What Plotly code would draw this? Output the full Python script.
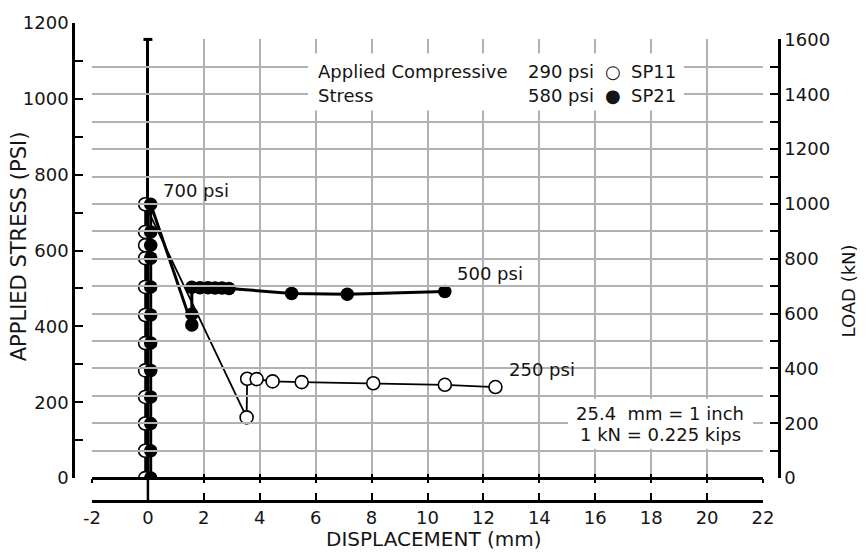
import plotly.graph_objects as go

# ---------------- data ----------------
sp11_disp = [-0.1, -0.1, -0.1, -0.1, -0.1, -0.1, -0.1, -0.1, -0.1, -0.1, -0.1, -0.1,
             3.53, 3.55, 3.89, 4.46, 5.50, 8.06, 10.62, 12.43]
sp11_stress = [0, 72, 144, 214, 284, 356, 430, 504, 580, 614, 649, 722,
               160, 262, 261, 255, 253, 250, 246, 240]

sp21_disp = [0.1, 0.1, 0.1, 0.1, 0.1, 0.1, 0.1, 0.1, 0.1, 0.1, 0.1, 0.1,
             1.57, 1.57, 1.57, 1.86, 2.15, 2.40, 2.65, 2.90, 5.14, 7.13, 10.62]
sp21_stress = [0, 72, 144, 214, 284, 356, 430, 504, 580, 614, 649, 722,
               404, 432, 503, 502, 502, 501, 501, 500, 487, 485, 492]

disp_range = [-2, 22]
disp_ticks = [-2, 0, 2, 4, 6, 8, 10, 12, 14, 16, 18, 20, 22]
disp_ticklabels = ["-2", "0", "2", "4", "6", "8", "10", "12", "14", "16", "18", "20", "22"]
stress_range = [0, 1200]
load_range = [0, 1600]

x_title = "DISPLACEMENT (mm)"
y_title = "APPLIED STRESS (PSI)"
y2_title = "LOAD (kN)"

# ---------------- layout geometry (pixels) ----------------
W, H = 866, 554
ML, MR, MT, MB = 92, 103, 15, 53
PW = W - ML - MR
PH = H - MT - MB
ZERO_PX = 477.7      # pixel row of 0 psi / 0 kN
LOAD_TOP_PX = 31.7   # pixel row of 1600 kN
STRESS_TOP_PX = 15   # pixel row of 1200 psi


def fx(px):
    return (px - ML) / PW


def fy(py):
    return (H - MB - py) / PH


stress_per_px = stress_range[1] / (ZERO_PX - STRESS_TOP_PX)
overlay_stress_top = (ZERO_PX - LOAD_TOP_PX) * stress_per_px

FONT = "DejaVu Sans"
TXT = "#151515"
GRID = "#b2b2b2"
FS = 18

fig = go.Figure()

# data traces (on stress overlay axis aligned with the load grid)
fig.add_trace(go.Scatter(
    x=sp11_disp, y=sp11_stress, xaxis="x", yaxis="y2", mode="lines+markers",
    line=dict(color="black", width=1.8),
    marker=dict(symbol="circle", size=13, color="white",
                line=dict(color="black", width=1.6)),
    showlegend=False, name="SP11"))
fig.add_trace(go.Scatter(
    x=sp21_disp, y=sp21_stress, xaxis="x", yaxis="y2", mode="lines+markers",
    line=dict(color="black", width=3),
    marker=dict(symbol="circle", size=13.5, color="black"),
    showlegend=False, name="SP21"))

# empty helper traces so the decorative axes get their subplots
fig.add_trace(go.Scatter(x=[], y=[], xaxis="x2", yaxis="y3", showlegend=False))
fig.add_trace(go.Scatter(x=[], y=[], xaxis="x3", yaxis="y", showlegend=False))
fig.add_trace(go.Scatter(x=[], y=[], xaxis="x4", yaxis="y", showlegend=False))

y_dom = [fy(ZERO_PX), fy(LOAD_TOP_PX)]

fig.update_layout(
    width=W, height=H,
    margin=dict(l=ML, r=MR, t=MT, b=MB, pad=0),
    paper_bgcolor="white", plot_bgcolor="rgba(0,0,0,0)",
    font=dict(family=FONT, size=FS, color=TXT),
    showlegend=False,
    # grid axis (vertical grid lines, x=0 line, ticks below the zero line)
    xaxis=dict(domain=[0, 1], range=disp_range, anchor="y",
               tickmode="array", tickvals=disp_ticks,
               showgrid=True, gridcolor=GRID, gridwidth=1.5,
               zeroline=True, zerolinecolor="black", zerolinewidth=2.5,
               showline=False, showticklabels=False,
               ticks="outside", ticklen=4, tickwidth=2, tickcolor="black"),
    # ticks above the zero line
    xaxis4=dict(overlaying="x", range=disp_range, anchor="y",
                tickmode="array", tickvals=disp_ticks,
                showgrid=False, zeroline=False, showline=False,
                showticklabels=False,
                ticks="inside", ticklen=4, tickwidth=2, tickcolor="black"),
    # bottom displacement axis
    xaxis3=dict(overlaying="x", range=disp_range, anchor="free", position=0,
                tickmode="array", tickvals=disp_ticks, ticktext=disp_ticklabels,
                showgrid=False, zeroline=False,
                showline=True, linecolor="black", linewidth=2.5,
                ticks="inside", ticklen=7, tickwidth=2, tickcolor="black",
                tickfont=dict(family=FONT, size=FS, color=TXT)),
    # load axis (right) + horizontal grid
    yaxis=dict(domain=y_dom, range=load_range, anchor="free", position=1,
               shift=16, side="right",
               dtick=200, showgrid=True, gridcolor=GRID, gridwidth=1.5,
               minor=dict(dtick=100, showgrid=True, gridcolor=GRID,
                          gridwidth=1.5, ticks="inside", ticklen=8,
                          tickwidth=2, tickcolor="black"),
               zeroline=True, zerolinecolor="black", zerolinewidth=2.5,
               showline=True, linecolor="black", linewidth=2.5,
               ticks="inside", ticklen=8, tickwidth=2, tickcolor="black",
               tickfont=dict(family=FONT, size=FS, color=TXT)),
    # stress overlay for data
    yaxis2=dict(overlaying="y", range=[0, overlay_stress_top], anchor="x",
                visible=False),
    # stress display axis (left)
    xaxis2=dict(domain=[0, 1], range=disp_range, anchor="y3", visible=False),
    yaxis3=dict(domain=[fy(ZERO_PX), 1], range=stress_range, anchor="free",
                position=0, shift=-19, side="left",
                dtick=200, showgrid=False, zeroline=False,
                minor=dict(dtick=100, ticks="inside", ticklen=8, tickwidth=2,
                           tickcolor="black"),
                showline=True, linecolor="black", linewidth=2.5,
                ticks="inside", ticklen=8, tickwidth=2, tickcolor="black",
                tickfont=dict(family=FONT, size=FS, color=TXT)),
)

shapes = [
    # continuation of the x=0 line down to the bottom axis
    dict(type="line", xref="x", yref="paper", x0=0, x1=0, y0=0, y1=y_dom[0],
         line=dict(color="black", width=2.5), layer="above"),
    # cap at the top of the x=0 line
    dict(type="line", xref="x", yref="paper", x0=-0.16, x1=0.16,
         y0=y_dom[1], y1=y_dom[1], line=dict(color="black", width=3),
         layer="above"),
    # white boxes behind the notes
    dict(type="rect", xref="paper", yref="paper",
         x0=fx(308), x1=fx(684), y0=fy(104), y1=fy(46),
         fillcolor="white", line=dict(width=0), layer="above"),
    dict(type="rect", xref="paper", yref="paper",
         x0=fx(568), x1=fx(753), y0=fy(448), y1=fy(397),
         fillcolor="white", line=dict(width=0), layer="above"),
]
fig.update_layout(shapes=shapes)


def note(text, px, py, xanchor="left", size=FS, angle=0):
    fig.add_annotation(text=text, xref="paper", yref="paper",
                       x=fx(px), y=fy(py), xanchor=xanchor, yanchor="middle",
                       showarrow=False, textangle=angle,
                       font=dict(family=FONT, size=size, color=TXT))


note("700 psi", 161, 185)
note("500 psi", 455, 270)
note("250 psi", 507, 367)
note("Applied Compressive", 316, 64)
note("Stress", 316, 89)
note("290 psi", 596, 64, xanchor="right")
note("580 psi", 596, 89, xanchor="right")
note("○", 613, 64, xanchor="center")
note("●", 613, 89, xanchor="center")
note("SP11", 629, 64)
note("SP21", 629, 89)
note("25.4  mm = 1 inch", 660, 412, xanchor="center")
note("1 kN = 0.225 kips", 660, 433, xanchor="center")
note(x_title, 434, 540, xanchor="center", size=20)
note(y_title, 19, 242, xanchor="center", size=21, angle=-90)
note(y2_title, 849, 288, xanchor="center", size=18, angle=-90)

fig.write_html("out.html")
